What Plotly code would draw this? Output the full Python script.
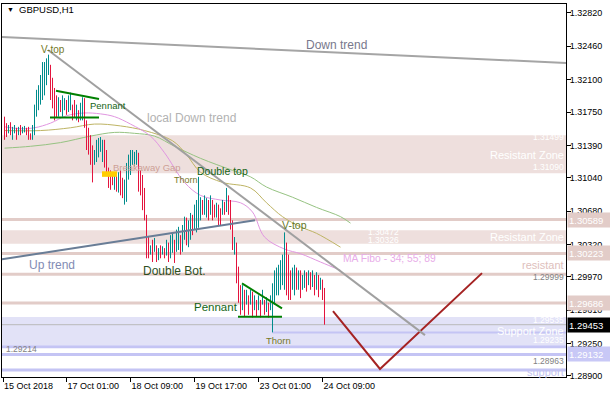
import plotly.graph_objects as go

# ---------------- data ----------------
opens = [1.3170,1.3163,1.3152,1.3164,1.3145,1.3152,1.3158,1.3150,1.3161,1.3152,
 1.3153,1.3158,1.3159,1.3152,1.3145,1.3150,1.3170,1.3177,1.3183,1.3188,
 1.3193,1.3204,1.3215,1.3226,1.3212,1.3201,1.3193,1.3170,1.3188,1.3170,
 1.3177,1.3188,1.3175,1.3177,1.3183,1.3188,1.3166,1.3177,1.3166,1.3166,
 1.3190,1.3166,1.3158,1.3150,1.3139,1.3118,1.3121,1.3126,1.3132,1.3121,
 1.3145,1.3134,1.3115,1.3112,1.3109,1.3091,1.3107,1.3088,1.3112,1.3104,
 1.3075,1.3078,1.3102,1.3107,1.3118,1.3116,1.3118,1.3131,1.3112,1.3107,
 1.3093,1.3064,1.3040,1.3021,1.3037,1.3024,1.3031,1.3015,1.3031,1.3021,
 1.3028,1.3020,1.3034,1.3017,1.3023,1.3037,1.3024,1.3026,1.3042,1.3024,
 1.3037,1.3061,1.3029,1.3037,1.3064,1.3048,1.3045,1.3050,1.3058,1.3080,
 1.3064,1.3061,1.3080,1.3064,1.3080,1.3075,1.3061,1.3075,1.3071,1.3064,
 1.3078,1.3067,1.3085,1.3080,1.3058,1.3021,1.3034,1.3008,1.2988,1.2961,
 1.2983,1.2967,1.2977,1.2967,1.2981,1.2961,1.2972,1.2961,1.2972,1.2967,
 1.2972,1.2959,1.2969,1.2961,1.2937,1.2967,1.2977,1.2977,1.2983,1.2988,
 1.2983,1.3034,1.3021,1.3004,1.2983,1.2977,1.3007,1.2983,1.3004,1.2983,
 1.2985,1.3002,1.2988,1.3002,1.2986,1.2999,1.2983,1.2999,1.2983,1.2994,
 1.2985]
closes = [1.3145,1.3148,1.3161,1.3150,1.3159,1.3161,1.3145,1.3159,1.3150,1.3159,
 1.3160,1.3150,1.3145,1.3145,1.3161,1.3183,1.3199,1.3204,1.3215,1.3229,
 1.3229,1.3233,1.3237,1.3188,1.3179,1.3166,1.3169,1.3191,1.3175,1.3193,
 1.3190,1.3172,1.3193,1.3196,1.3166,1.3169,1.3183,1.3164,1.3185,1.3191,
 1.3158,1.3134,1.3129,1.3118,1.3099,1.3134,1.3145,1.3147,1.3148,1.3145,
 1.3115,1.3110,1.3093,1.3091,1.3096,1.3110,1.3089,1.3110,1.3085,1.3082,
 1.3102,1.3120,1.3129,1.3134,1.3134,1.3132,1.3134,1.3089,1.3085,1.3069,
 1.3058,1.3017,1.3017,1.3031,1.3013,1.3039,1.3013,1.3028,1.3017,1.3030,
 1.3017,1.3037,1.3013,1.3042,1.3044,1.3012,1.3048,1.3051,1.3021,1.3053,
 1.3062,1.3031,1.3058,1.3066,1.3042,1.3075,1.3080,1.3105,1.3083,1.3064,
 1.3085,1.3082,1.3058,1.3085,1.3058,1.3061,1.3077,1.3053,1.3053,1.3080,
 1.3064,1.3093,1.3064,1.3048,1.3026,1.3040,1.2990,1.2969,1.2956,1.2988,
 1.2954,1.2983,1.2956,1.2983,1.2953,1.2977,1.2954,1.2977,1.2953,1.2983,
 1.2956,1.2975,1.2953,1.2977,1.2990,1.3004,1.3007,1.3010,1.3015,1.3021,
 1.3045,1.2977,1.2972,1.2972,1.3007,1.3010,1.2983,1.3004,1.2974,1.2999,
 1.3004,1.2981,1.3004,1.2983,1.3004,1.2977,1.3002,1.2975,1.2996,1.2972,
 1.29453]

ma34_x = [0, 8, 15, 23, 31, 40, 48, 55, 63, 73, 80, 90, 98, 108, 118, 124, 130, 140, 148, 158, 168]
ma34_y = [1.3159,1.3157,1.3158,1.3163,1.3171,1.3174,1.3173,1.3170,1.3162,1.3149,1.3131,
          1.3099,1.3085,1.3080,1.3077,1.3067,1.3040,1.3027,1.3022,1.3013,1.3004]
ma55_x = [0, 18, 33, 45, 58, 70, 84, 91, 98, 109, 123, 131, 139, 148, 156, 168]
ma55_y = [1.3155,1.3155,1.3158,1.3162,1.3160,1.3155,1.3144,1.3129,1.3110,1.3099,1.3093,
          1.3077,1.3062,1.3051,1.3044,1.3029]
ma89_x = [0, 13, 28, 43, 55, 65, 75, 85, 98, 114, 123, 131, 144, 156, 168, 173]
ma89_y = [1.3136,1.3138,1.3142,1.3149,1.3153,1.3152,1.3149,1.3138,1.3125,1.3112,1.3105,
          1.3094,1.3083,1.3072,1.3062,1.3055]

forecast_x = [164.25, 187.75, 238.75]
forecast_y = [1.2960, 1.28975, 1.3001]

tick_pos = [-0.75, 31, 63, 95, 127, 159]
tick_text = ["15 Oct 2018", "17 Oct 01:00", "18 Oct 09:00", "19 Oct 17:00", "23 Oct 01:00", "24 Oct 09:00"]
price_ticks = [1.32820, 1.32460, 1.32100, 1.31750, 1.31390, 1.31040, 1.30680,
               1.30320, 1.29970, 1.29610, 1.29250, 1.28900]

resist_zone_1 = (1.31090, 1.31499)
resist_zone_2 = (1.30326, 1.30472)
support_zone = (1.29235, 1.29535)
pink_levels = [1.30589, 1.30223, 1.29999, 1.29686]
lav_levels = [1.29214, 1.29132, 1.28963]
thorn_level = 1.2937
current_price = 1.29453

down_trend = ([-1.25, 280.75], [1.3256, 1.3228])
local_down = ([21.75, 210.25], [1.3242, 1.2934])
up_trend = ([-1.25, 125.25], [1.3016, 1.3058])
pennant1_top = ([25.75, 47.25], [1.3198, 1.3189])
pennant1_bot = ([22.75, 47.25], [1.3169, 1.3169])
pennant2_top = ([118.75, 138.75], [1.2990, 1.2963])
pennant2_bot = ([116.75, 138.75], [1.2954, 1.2954])
gap_box = ([48.75, 56.25], [1.3105, 1.3111])

# ---------------- figure ----------------
FONT = "Liberation Sans, Arial, sans-serif"
UP = "rgb(0,140,140)"
DN = "rgb(228,20,62)"
PINK_FILL = "rgb(238,223,221)"
PINK_LINE = "rgb(226,204,200)"
LAV_FILL = "rgb(226,226,247)"
LAV_LINE = "rgb(196,196,244)"

fig = go.Figure()

ux, uy, dx, dy = [], [], [], []
for i, (o, c) in enumerate(zip(opens, closes)):
    lo, hi = min(o, c), max(o, c)
    if c >= o:
        ux += [i, i, None]; uy += [lo, hi, None]
    else:
        dx += [i, i, None]; dy += [lo, hi, None]

for xs, ys, col in [(ma89_x, ma89_y, "rgb(150,195,130)"),
                    (ma55_x, ma55_y, "rgb(190,180,100)"),
                    (ma34_x, ma34_y, "rgb(225,150,225)")]:
    fig.add_trace(go.Scatter(x=xs, y=ys, mode="lines", line=dict(color=col, width=1, shape="spline"),
                             hoverinfo="skip"))

fig.add_trace(go.Scatter(x=ux, y=uy, mode="lines", line=dict(color=UP, width=1), hoverinfo="skip"))
fig.add_trace(go.Scatter(x=dx, y=dy, mode="lines", line=dict(color=DN, width=1), hoverinfo="skip"))
fig.add_trace(go.Scatter(x=forecast_x, y=forecast_y, mode="lines",
                         line=dict(color="rgb(165,35,35)", width=2), hoverinfo="skip"))

shapes = []
for (a, b), col in [(resist_zone_1, PINK_FILL), (resist_zone_2, PINK_FILL), (support_zone, LAV_FILL)]:
    shapes.append(dict(type="rect", xref="paper", yref="y", x0=0, x1=1, y0=a, y1=b,
                       fillcolor=col, line=dict(width=0), layer="below"))
for lv in pink_levels:
    shapes.append(dict(type="line", xref="paper", yref="y", x0=0, x1=1, y0=lv, y1=lv,
                       line=dict(color=PINK_LINE, width=3), layer="below"))
for lv in lav_levels:
    shapes.append(dict(type="line", xref="paper", yref="y", x0=0, x1=1, y0=lv, y1=lv,
                       line=dict(color=LAV_LINE, width=3), layer="below"))
shapes.append(dict(type="line", xref="x", yref="y", x0=134, x1=280.75, y0=thorn_level, y1=thorn_level,
                   line=dict(color=LAV_LINE, width=2), layer="below"))
shapes.append(dict(type="line", xref="paper", yref="y", x0=0, x1=1, y0=current_price, y1=current_price,
                   line=dict(color="rgb(185,185,185)", width=1), layer="below"))

for (xs, ys), col, w in [(down_trend, "rgb(165,165,165)", 2), (local_down, "rgb(160,160,160)", 2),
                         (up_trend, "rgb(105,125,150)", 2),
                         (pennant1_top, "rgb(0,128,0)", 2), (pennant1_bot, "rgb(0,128,0)", 2),
                         (pennant2_top, "rgb(0,128,0)", 2), (pennant2_bot, "rgb(0,128,0)", 2)]:
    shapes.append(dict(type="line", xref="x", yref="y", x0=xs[0], x1=xs[1], y0=ys[0], y1=ys[1],
                       line=dict(color=col, width=w), layer="above"))
shapes.append(dict(type="rect", xref="x", yref="y", x0=gap_box[0][0], x1=gap_box[0][1],
                   y0=gap_box[1][0], y1=gap_box[1][1], fillcolor="rgb(255,205,0)",
                   line=dict(width=0), layer="above"))

ann = []
def lab(text, x, y, size, color, xanchor="left", xref="x"):
    ann.append(dict(text=text, x=x, y=y, xref=xref, yref="y", xanchor=xanchor, yanchor="middle",
                    showarrow=False, font=dict(family=FONT, size=size, color=color), borderpad=0))

RX = 0.999
lab("Double top", -1.3, 1.3261, 12, "rgb(40,105,20)")
lab("V-top", 17.75, 1.3243, 10, "rgb(115,120,40)")
lab("Pennant", 42.25, 1.3182, 9.5, "rgb(20,100,20)")
lab("local Down trend", 70.75, 1.3169, 12, "rgb(178,178,178)")
lab("Down trend", 150.25, 1.3247, 12, "rgb(120,120,140)")
lab("Breakaway Gap", 53.75, 1.3115, 9.5, "rgb(205,160,150)")
lab("Thorn", 84.25, 1.3102, 9, "rgb(120,120,40)")
lab("Double top", 95.75, 1.3111, 10.5, "rgb(20,100,20)")
lab("V-top", 138.25, 1.3053, 10.5, "rgb(100,120,40)")
lab("Up trend", 11.75, 1.3010, 12, "rgb(130,140,180)")
lab("Double Bot.", 68.75, 1.3003, 12, "rgb(45,80,30)")
lab("Pennant", 94.25, 1.2964, 11.5, "rgb(20,100,20)")
lab("Thorn", 130.25, 1.2928, 9.5, "rgb(120,120,40)")
lab("MA Fibo - 34; 55; 89", 168.75, 1.3017, 10.3, "rgb(232,172,232)")
lab("resistant", RX, 1.3010, 11, "rgb(222,192,188)", "right", "paper")
lab("1.29999", RX, 1.2997, 8.5, "rgb(130,130,130)", "right", "paper")
lab("1.31499", RX, 1.3148, 8.5, "white", "right", "paper")
lab("Resistant Zone", RX, 1.3129, 11, "white", "right", "paper")
lab("1.31090", RX, 1.3116, 8.5, "white", "right", "paper")
lab("1.30472", 197.75, 1.3045, 8.5, "white", "right")
lab("1.30326", 197.75, 1.3037, 8.5, "white", "right")
lab("Resistant Zone", RX, 1.3040, 11, "white", "right", "paper")
lab("1.29535", RX, 1.2950, 8.5, "white", "right", "paper")
lab("Support Zone", RX, 1.2939, 11, "white", "right", "paper")
lab("1.29235", RX, 1.2929, 8.5, "white", "right", "paper")
lab("1.29214", 0.0, 1.2919, 8.5, "rgb(130,130,130)")
lab("1.28963", RX, 1.2906, 8.5, "rgb(130,130,130)", "right", "paper")
lab("support", RX, 1.2894, 11, "rgb(195,195,240)", "right", "paper")

# price boxes on the right axis
for val, bg in [(1.30589, PINK_LINE), (1.30223, PINK_LINE), (1.29686, PINK_LINE),
                (current_price, "black"), (1.29132, "rgb(200,200,246)")]:
    ann.append(dict(text=f"{val:.5f}", x=1.0018, y=val, xref="paper", yref="y", xanchor="left",
                    yanchor="middle", showarrow=False, bgcolor=bg, width=41, height=12, align="left",
                    borderpad=1, font=dict(family=FONT, size=9.5, color="white")))

ann.append(dict(text="▼", x=0.006, y=0.985, xref="paper", yref="paper", xanchor="left",
                yanchor="middle", showarrow=False, font=dict(family=FONT, size=7, color="black")))
ann.append(dict(text="GBPUSD,H1", x=0.026, y=0.984, xref="paper", yref="paper", xanchor="left",
                yanchor="middle", showarrow=False, font=dict(family=FONT, size=9.5, color="black")))

fig.update_layout(
    template="none",
    width=610, height=400,
    margin=dict(l=2, r=44, t=4, b=23, pad=0),
    paper_bgcolor="white", plot_bgcolor="white",
    showlegend=False,
    shapes=shapes, annotations=ann,
    xaxis=dict(range=[-1.25, 280.75], showgrid=False, zeroline=False, showline=True,
               linecolor="black", linewidth=1, mirror=True, ticks="outside", ticklen=4,
               tickcolor="black", tickvals=tick_pos, ticktext=tick_text,
               ticklabelposition="outside right", automargin=False,
               tickfont=dict(family=FONT, size=9, color="black")),
    yaxis=dict(range=[1.28888, 1.32917], side="right", showgrid=False, zeroline=False,
               showline=True, linecolor="black", linewidth=1, mirror=True, ticks="outside",
               ticklen=4, tickcolor="black", tickvals=price_ticks, ticklabelstandoff=-3,
               ticktext=[f"{v:.5f}" for v in price_ticks], automargin=False,
               tickfont=dict(family=FONT, size=9, color="black")),
)

fig.write_html("out.html", config={"displayModeBar": False},
               post_script="document.body.style.margin='0px';document.body.style.overflow='hidden';")
